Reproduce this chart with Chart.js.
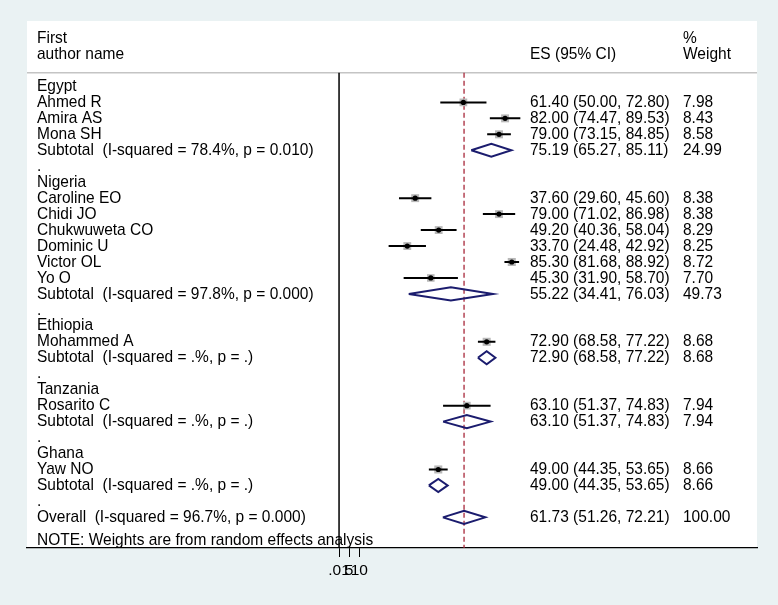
<!DOCTYPE html>
<html>
<head>
<meta charset="utf-8">
<script src="https://cdn.jsdelivr.net/npm/chart.js@4.4.1/dist/chart.umd.min.js"></script>
<style>
  html, body { margin: 0; padding: 0; background: #eaf2f3; }
  canvas { display: block; }
</style>
</head>
<body>
<canvas id="forest" width="778" height="605"></canvas>
<script>
// Country groups and the pooled figures for each
const groups = ["Egypt", "Nigeria", "Ethiopia", "Tanzania", "Ghana"];
const subI2 = ["78.4%", "97.8%", ".%", ".%", ".%"];
const subP = ["0.010", "0.000", ".", ".", "."];
const subES = [75.19, 55.22, 72.90, 63.10, 49.00];
const subLo = [65.27, 34.41, 68.58, 51.37, 44.35];
const subHi = [85.11, 76.03, 77.22, 74.83, 53.65];
const subWeight = [24.99, 49.73, 8.68, 7.94, 8.66];

// Single studies
const studyGroup = [0, 0, 0, 1, 1, 1, 1, 1, 1, 2, 3, 4];
const studyNames = ["Ahmed R", "Amira AS", "Mona SH", "Caroline EO", "Chidi JO", "Chukwuweta CO",
                    "Dominic U", "Victor OL", "Yo O", "Mohammed A", "Rosarito C", "Yaw NO"];
const studyES = [61.40, 82.00, 79.00, 37.60, 79.00, 49.20, 33.70, 85.30, 45.30, 72.90, 63.10, 49.00];
const studyLo = [50.00, 74.47, 73.15, 29.60, 71.02, 40.36, 24.48, 81.68, 31.90, 68.58, 51.37, 44.35];
const studyHi = [72.80, 89.53, 84.85, 45.60, 86.98, 58.04, 42.92, 88.92, 58.70, 77.22, 74.83, 53.65];
const studyWeight = [7.98, 8.43, 8.58, 8.38, 8.38, 8.29, 8.25, 8.72, 7.70, 8.68, 7.94, 8.66];

// Overall pooled estimate
const overallES = 61.73;
const overallLo = 51.26;
const overallHi = 72.21;
const overallWeight = 100.00;
const overallI2 = "96.7%";
const overallP = "0.000";

// x axis ticks
const tickValues = [0.01, 5, 10];
const tickLabels = [".01", "5", "10"];

const FONT = '"Liberation Sans", Arial, Helvetica, sans-serif';
const FONT_SIZE = 15.5;
const TEXT_STRETCH = 1.08; // reference glyphs are a touch taller than Arial

function fmt(v) { return v.toFixed(2); }
function ciText(es, lo, hi) { return fmt(es) + " (" + fmt(lo) + ", " + fmt(hi) + ")"; }

// Build the row table in plot order
const textRows = [];
const studyPts = [];
const diamondPts = [];
let row = 0;
groups.forEach(function (g, gi) {
    textRows.push({ r: row, label: g });
    row++;
    studyNames.forEach(function (name, si) {
        if (studyGroup[si] !== gi) return;
        textRows.push({ r: row, label: name,
            es: ciText(studyES[si], studyLo[si], studyHi[si]), wt: fmt(studyWeight[si]) });
        studyPts.push({ r: row, es: studyES[si], lo: studyLo[si], hi: studyHi[si], w: studyWeight[si] });
        row++;
    });
    textRows.push({ r: row, label: "Subtotal  (I-squared = " + subI2[gi] + ", p = " + subP[gi] + ")",
        es: ciText(subES[gi], subLo[gi], subHi[gi]), wt: fmt(subWeight[gi]) });
    diamondPts.push({ r: row, es: subES[gi], lo: subLo[gi], hi: subHi[gi] });
    row++;
    textRows.push({ r: row, label: "." });
    row++;
});
textRows.push({ r: row, label: "Overall  (I-squared = " + overallI2 + ", p = " + overallP + ")",
    es: ciText(overallES, overallLo, overallHi), wt: fmt(overallWeight) });
diamondPts.push({ r: row, es: overallES, lo: overallLo, hi: overallHi });
row++;
const noteRow = row;

const headerLineRow = -0.85;
const yTop = -4.1;
const yBottom = 28.92;
const diamondHalf = 0.41;

// line data with gaps between segments
const ciData = [];
studyPts.forEach(function (p) {
    ciData.push({ x: p.lo, y: p.r }, { x: p.hi, y: p.r }, { x: p.hi, y: null });
});
const diamondData = [];
diamondPts.forEach(function (d) {
    diamondData.push({ x: d.lo, y: d.r }, { x: d.es, y: d.r - diamondHalf },
        { x: d.hi, y: d.r }, { x: d.es, y: d.r + diamondHalf }, { x: d.lo, y: d.r },
        { x: d.lo, y: null });
});

function putText(ctx, txt, x, y) {
    ctx.save();
    ctx.translate(x, y);
    ctx.scale(1, TEXT_STRETCH);
    ctx.fillText(txt, 0, 0);
    ctx.restore();
}

const panelPlugin = {
    id: "panel",
    beforeDraw: function (chart) {
        const ctx = chart.ctx;
        const a = chart.chartArea;
        ctx.save();
        ctx.fillStyle = "#eaf2f3";
        ctx.fillRect(0, 0, chart.width, chart.height);
        ctx.fillStyle = "#ffffff";
        ctx.fillRect(a.left, a.top, a.right - a.left, a.bottom - a.top);
        const yl = chart.scales.y.getPixelForValue(headerLineRow);
        ctx.strokeStyle = "#c4c4c4";
        ctx.lineWidth = 1.5;
        ctx.beginPath();
        ctx.moveTo(a.left, yl);
        ctx.lineTo(a.right, yl);
        ctx.stroke();
        ctx.restore();
    },
    afterDatasetsDraw: function (chart) {
        const ctx = chart.ctx;
        const ys = chart.scales.y;
        ctx.save();
        ctx.font = FONT_SIZE + "px " + FONT;
        ctx.fillStyle = "#000";
        ctx.textAlign = "left";
        ctx.textBaseline = "middle";
        const xLab = 37, xEs = 530, xWt = 683;
        putText(ctx, "First", xLab, ys.getPixelForValue(-3.04));
        putText(ctx, "author name", xLab, ys.getPixelForValue(-2.04));
        putText(ctx, "ES (95% CI)", xEs, ys.getPixelForValue(-2.04));
        putText(ctx, "%", xWt, ys.getPixelForValue(-3.04));
        putText(ctx, "Weight", xWt, ys.getPixelForValue(-2.04));
        textRows.forEach(function (t) {
            const y = ys.getPixelForValue(t.r);
            putText(ctx, t.label, xLab, y);
            if (t.es) putText(ctx, t.es, xEs, y);
            if (t.wt) putText(ctx, t.wt, xWt, y);
        });
        putText(ctx, "NOTE: Weights are from random effects analysis", xLab,
            ys.getPixelForValue(noteRow + 0.42));
        ctx.restore();
    }
};

new Chart(document.getElementById("forest"), {
    type: "scatter",
    data: {
        datasets: [
            {
                type: "line",
                data: [{ x: 0, y: headerLineRow }, { x: 0, y: yBottom }],
                borderColor: "#000",
                borderWidth: 1.5,
                pointRadius: 0,
                order: 10
            },
            {
                type: "line",
                data: [{ x: overallES, y: headerLineRow }, { x: overallES, y: yBottom }],
                borderColor: "#a8283a",
                borderWidth: 1.3,
                borderDash: [5, 3],
                pointRadius: 0,
                order: 9
            },
            {
                data: studyPts.map(function (p) { return { x: p.es, y: p.r }; }),
                pointStyle: "rect",
                pointRadius: studyPts.map(function (p) { return 5.6 * Math.sqrt(p.w / 8.4); }),
                backgroundColor: "#b8b8b8",
                borderWidth: 0,
                order: 5
            },
            {
                type: "line",
                data: ciData,
                borderColor: "#000",
                borderWidth: 2,
                pointRadius: 0,
                spanGaps: false,
                order: 4
            },
            {
                type: "line",
                data: diamondData,
                borderColor: "#1b1c6e",
                borderWidth: 2,
                pointRadius: 0,
                fill: false,
                spanGaps: false,
                order: 3
            },
            {
                data: studyPts.map(function (p) { return { x: p.es, y: p.r }; }),
                pointStyle: "circle",
                pointRadius: 2.6,
                backgroundColor: "#000",
                borderWidth: 0,
                order: 1
            }
        ]
    },
    options: {
        responsive: false,
        animation: false,
        events: [],
        layout: { padding: { left: 27, right: 21, top: 21, bottom: 0 } },
        plugins: { legend: { display: false }, tooltip: { enabled: false } },
        scales: {
            x: {
                type: "linear",
                min: -154.1,
                max: 206.4,
                afterBuildTicks: function (s) {
                    s.ticks = tickValues.map(function (v) { return { value: v }; });
                },
                afterFit: function (s) { s.height = 57; },
                grid: { drawOnChartArea: false, drawTicks: true, tickLength: 9, color: "#000", lineWidth: 1 },
                border: { display: true, color: "#000", width: 1.2 },
                ticks: {
                    autoSkip: false,
                    maxRotation: 0,
                    padding: 4,
                    color: "#000",
                    font: { family: FONT, size: FONT_SIZE },
                    callback: function (v, i) { return tickLabels[i]; }
                }
            },
            y: {
                type: "linear",
                reverse: true,
                min: yTop,
                max: yBottom,
                display: false
            }
        }
    },
    plugins: [panelPlugin]
});
</script>
</body>
</html>
